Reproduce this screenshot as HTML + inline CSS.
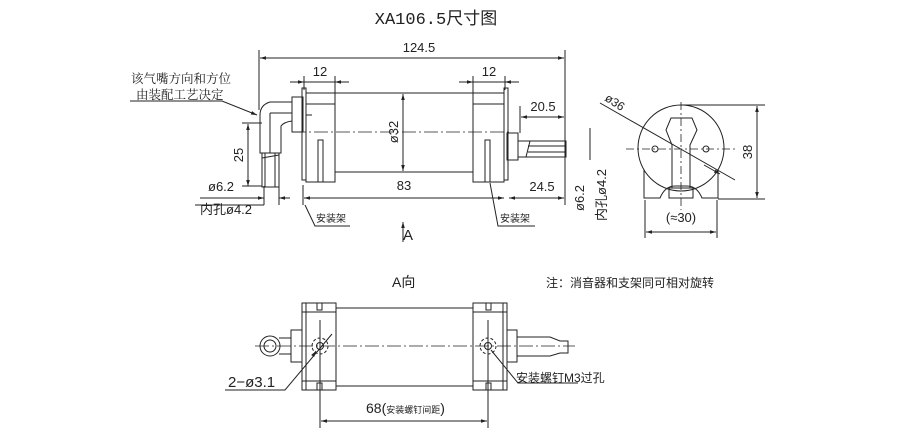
<!DOCTYPE html>
<html><head><meta charset="utf-8"><style>
html,body{margin:0;padding:0;background:#fff}
svg{display:block}
text{font-family:"Liberation Sans","Noto Sans CJK SC",sans-serif;fill:#222}
</style></head><body>
<svg width="900" height="432" viewBox="0 0 900 432" xmlns="http://www.w3.org/2000/svg">
<defs>
<marker id="a" viewBox="0 0 10 10" refX="10" refY="5" markerWidth="8" markerHeight="6" orient="auto-start-reverse"><path d="M0,2 L10,5 L0,8 z" fill="#222"/></marker>
</defs>
<text x="436" y="24" style="font-family:'Liberation Mono','Noto Sans CJK SC',monospace;font-size:17px" text-anchor="middle">XA106.5尺寸图</text>
<g stroke="#222" fill="none" stroke-width="1">
<!-- top view -->
<line x1="259" y1="50" x2="259" y2="110"/><line x1="565" y1="50" x2="565" y2="205"/>
<line x1="260" y1="58" x2="564" y2="58" marker-start="url(#a)" marker-end="url(#a)"/>
<line x1="304" y1="76" x2="304" y2="90"/><line x1="335" y1="76" x2="335" y2="104"/>
<line x1="290" y1="82" x2="304" y2="82" marker-end="url(#a)"/><line x1="349" y1="82" x2="335" y2="82" marker-end="url(#a)"/><line x1="304" y1="82" x2="335" y2="82"/>
<line x1="473" y1="76" x2="473" y2="104"/><line x1="505" y1="76" x2="505" y2="90"/>
<line x1="459" y1="82" x2="473" y2="82" marker-end="url(#a)"/><line x1="519" y1="82" x2="505" y2="82" marker-end="url(#a)"/><line x1="473" y1="82" x2="505" y2="82"/>
<rect x="302" y="88" width="4" height="92"/><rect x="504" y="88" width="4" height="92"/>
<rect x="306" y="104" width="29" height="78"/><rect x="473" y="104" width="31" height="78"/>
<line x1="335" y1="93" x2="473" y2="93"/><line x1="335" y1="172" x2="473" y2="172"/>
<line x1="306" y1="93" x2="335" y2="93"/><line x1="473" y1="93" x2="504" y2="93"/>
<line x1="306" y1="115" x2="312" y2="115"/>
<rect x="318" y="140" width="5" height="42"/><rect x="485" y="140" width="5" height="42"/>
<line x1="292" y1="132" x2="512" y2="132" stroke-dasharray="14,3,2,3" stroke-width="0.8"/>
<line x1="403" y1="94" x2="403" y2="171" marker-start="url(#a)" marker-end="url(#a)"/>
<rect x="292" y="97" width="11" height="35"/>
<!-- elbow -->
<path d="M292,102 L270,102 Q260,105 260,115 L260,153 L281,153 L281,126 Q284,122 292,121"/>
<line x1="270" y1="113" x2="292" y2="113"/><line x1="270" y1="113" x2="270" y2="153"/>
<rect x="262" y="153" width="17" height="34"/>
<path d="M265,153 L265,187 M275,153 L275,187 M262,158 L279,155"/>
<line x1="248" y1="124" x2="248" y2="186" marker-start="url(#a)" marker-end="url(#a)"/>
<line x1="242" y1="123" x2="262" y2="123"/><line x1="242" y1="186" x2="262" y2="186"/>
<line x1="264" y1="186" x2="264" y2="205"/><line x1="279" y1="186" x2="279" y2="205"/>
<line x1="200" y1="198" x2="264" y2="198" marker-end="url(#a)"/><line x1="290" y1="198" x2="279" y2="198" marker-end="url(#a)"/>
<line x1="195" y1="205" x2="264" y2="205"/>
<line x1="303" y1="185" x2="303" y2="205"/>
<line x1="304" y1="198" x2="504" y2="198" marker-start="url(#a)" marker-end="url(#a)"/>
<line x1="509" y1="198" x2="564" y2="198" marker-start="url(#a)" marker-end="url(#a)"/>
<rect x="507" y="133" width="11" height="27"/>
<path d="M518,141 L566,141 L566,157 L518,157 Z M530,141 L526,157 M528,146 L566,146 M528,152 L566,152"/>
<line x1="520" y1="106" x2="520" y2="133"/>
<line x1="521" y1="117" x2="564" y2="117" marker-start="url(#a)" marker-end="url(#a)"/>
<line x1="590" y1="128" x2="590" y2="160"/>
<path d="M130,101 L222,101 L257,115" marker-end="url(#a)"/>
<path d="M305,205 L315,226 L350,226"/><path d="M490,183 L498,226 L535,226"/>
<line x1="403" y1="222" x2="403" y2="242" marker-start="url(#a)"/>
<!-- end view -->
<circle cx="681" cy="148" r="43"/>
<path d="M644,170 L644,198 L660,198 Q665,186 675,186 L687,186 Q697,186 702,198 L718,198 L718,170"/>
<path d="M666,130 L671,118 L692,118 L697,130 L690,145 L690,188 L672,188 L672,145 Z"/>
<rect x="669" y="188" width="24" height="10"/>
<line x1="681" y1="102" x2="681" y2="210" stroke-dasharray="8,3,2,3" stroke-width="0.8"/>
<line x1="626" y1="149" x2="736" y2="149" stroke-dasharray="8,3,2,3" stroke-width="0.8"/>
<circle cx="655" cy="149" r="3"/><circle cx="706" cy="149" r="3"/>
<line x1="600" y1="103" x2="735" y2="180"/><line x1="704" y1="165" x2="720" y2="174" marker-end="url(#a)"/>
<line x1="681" y1="105" x2="765" y2="105"/><line x1="718" y1="199" x2="765" y2="199"/>
<line x1="757" y1="106" x2="757" y2="198" marker-start="url(#a)" marker-end="url(#a)"/>
<line x1="645" y1="200" x2="645" y2="238"/><line x1="717" y1="200" x2="717" y2="238"/>
<line x1="646" y1="232" x2="716" y2="232" marker-start="url(#a)" marker-end="url(#a)"/>
<!-- bottom view -->
<rect x="302" y="303" width="34" height="87"/><rect x="473" y="303" width="34" height="87"/>
<line x1="306" y1="303" x2="306" y2="390"/><line x1="503" y1="303" x2="503" y2="390"/>
<line x1="302" y1="312" x2="336" y2="312"/><line x1="302" y1="381" x2="336" y2="381"/>
<line x1="473" y1="312" x2="507" y2="312"/><line x1="473" y1="381" x2="507" y2="381"/>
<rect x="317" y="303" width="5" height="7"/><rect x="317" y="383" width="5" height="7"/>
<rect x="486" y="303" width="5" height="7"/><rect x="486" y="383" width="5" height="7"/>
<line x1="336" y1="308" x2="473" y2="308"/><line x1="336" y1="386" x2="473" y2="386"/>
<rect x="291" y="330" width="11" height="32"/><rect x="507" y="330" width="10" height="32"/>
<path d="M279,338 L291,338 M279,354 L291,354"/>
<circle cx="270" cy="346" r="10"/><circle cx="270" cy="346" r="6"/>
<path d="M517,337 L550,337 L560,341 L568,341 L568,353 L560,353 L550,356 L517,356"/>
<line x1="255" y1="346" x2="575" y2="346" stroke-dasharray="14,3,2,3" stroke-width="0.8"/>
<circle cx="320" cy="346" r="3.5"/><circle cx="488" cy="346" r="3.5"/>
<circle cx="320" cy="346" r="8" stroke-dasharray="3,2"/><circle cx="488" cy="346" r="8" stroke-dasharray="3,2"/>
<line x1="320" y1="320" x2="320" y2="428"/><line x1="488" y1="320" x2="488" y2="428"/>
<path d="M225,390 L285,390 L332,334" /><line x1="314" y1="354" x2="316" y2="351" marker-end="url(#a)"/>
<path d="M491,350 L518,383 L578,383"/>
<line x1="321" y1="421" x2="487" y2="421" marker-start="url(#a)" marker-end="url(#a)"/>
</g>
<g font-size="13">
<text x="419" y="52" text-anchor="middle">124.5</text>
<text x="320" y="76" text-anchor="middle">12</text>
<text x="489" y="76" text-anchor="middle">12</text>
<text x="543" y="111" text-anchor="middle">20.5</text>
<text x="404" y="190" text-anchor="middle">83</text>
<text x="542" y="191" text-anchor="middle">24.5</text>
<text x="208" y="191">ø6.2</text>
<text x="200" y="214">内孔ø4.2</text>
<text x="131" y="83" style="font-family:'Noto Serif CJK SC',serif;font-size:12.5px">该气嘴方向和方位</text>
<text x="136" y="99" style="font-family:'Noto Serif CJK SC',serif;font-size:12.5px">由装配工艺决定</text>
<text x="316" y="222" font-size="10">安装架</text>
<text x="500" y="222" font-size="10">安装架</text>
<text x="403" y="240" font-size="15">A</text>
<text transform="translate(243,155) rotate(-90)" text-anchor="middle">25</text>
<text transform="translate(398,132) rotate(-90)" text-anchor="middle">ø32</text>
<text transform="translate(584,198) rotate(-90)" text-anchor="middle">ø6.2</text>
<text transform="translate(606,195) rotate(-90)" text-anchor="middle">内孔ø4.2</text>
<text transform="translate(604,100) rotate(33)" font-size="12">ø36</text>
<text transform="translate(752,152) rotate(-90)" text-anchor="middle">38</text>
<text x="681" y="222" text-anchor="middle">(≈30)</text>
<text x="392" y="287" font-size="14">A向</text>
<text x="546" y="287" font-size="12">注：消音器和支架同可相对旋转</text>
<text x="228" y="387" font-size="15">2−ø3.1</text>
<text x="516" y="382" font-size="12">安装螺钉M3过孔</text>
<text x="366" y="413" font-size="14">68(<tspan font-size="9">安装螺钉间距</tspan>)</text>
</g>
</svg>
</body></html>
